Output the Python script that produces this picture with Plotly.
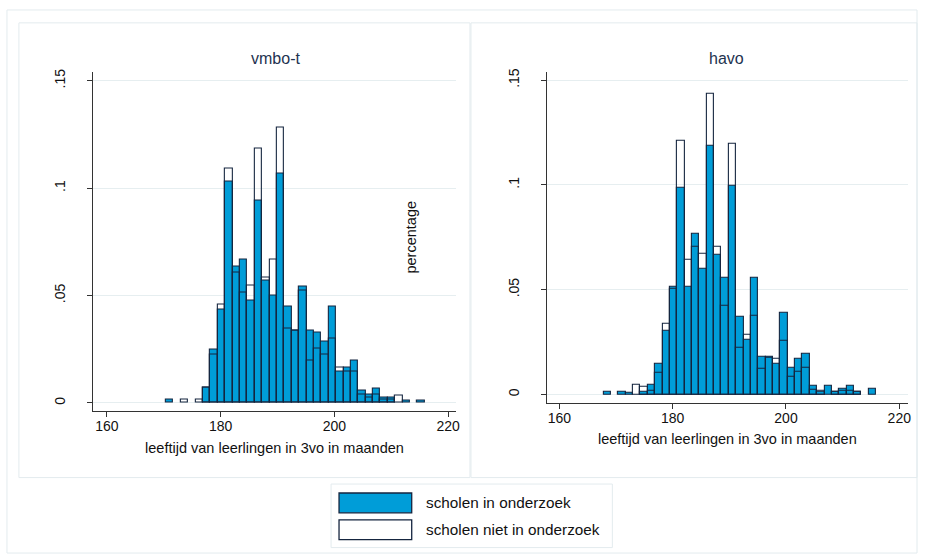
import plotly.graph_objects as go

# Histogram bins shared by both groups (age in months)
BIN_START = 167.8
BIN_WIDTH = 1.3
N_BINS = 37

# Fraction of pupils per bin, vmbo-t
vmbo_in = [0, 0, 0.0015, 0, 0, 0, 0, 0.0070, 0.0247, 0.0437, 0.1030, 0.0637, 0.0668,
           0.0476, 0.0941, 0.0568, 0.0498, 0.1068, 0.0447, 0.0336, 0.0540, 0.0336,
           0.0327, 0.0285, 0.0447, 0.0147, 0.0167, 0.0196, 0.0057, 0.0039, 0.0067,
           0.0026, 0.0026, 0, 0.0013, 0, 0.0013]
vmbo_niet = [0, 0, 0, 0, 0.0018, 0, 0.0018, 0.0070, 0.0224, 0.0458, 0.1090, 0.0605,
             0.0512, 0.0548, 0.1183, 0.0583, 0.0668, 0.1280, 0.0347, 0.0336, 0.0524,
             0.0196, 0.0252, 0.0224, 0.0301, 0.0167, 0.0147, 0.0147, 0.0039, 0.0025,
             0.0039, 0.0015, 0.0015, 0.0034, 0, 0, 0]

# Fraction of pupils per bin, havo
havo_in = [0.0013, 0, 0.0013, 0.0006, 0, 0.0012, 0.0047, 0.0147, 0.0303, 0.0513, 0.0987,
           0.0513, 0.0766, 0.0600, 0.1188, 0.0666, 0.0556, 0.0998, 0.0371, 0.0261,
           0.0556, 0.0182, 0.0182, 0.0145, 0.0392, 0.0126, 0.0171, 0.0192, 0.0039,
           0.0012, 0.0039, 0.0011, 0.0028, 0.0039, 0.0012, 0, 0.0027]
havo_niet = [0, 0, 0, 0, 0.0047, 0.0035, 0.0019, 0.0102, 0.0335, 0.0502, 0.1209, 0.0645,
             0.0706, 0.0671, 0.1433, 0.0706, 0.0422, 0.1196, 0.0221, 0.0284, 0.0374,
             0.0123, 0.0177, 0.0169, 0.0256, 0.0083, 0.0110, 0.0129, 0.0024, 0.0019,
             0, 0.0011, 0.0019, 0.0019, 0.0012, 0, 0]

panel_titles = ["vmbo-t", "havo"]
series_names = ["scholen in onderzoek", "scholen niet in onderzoek"]
x_title = "leeftijd van leerlingen in 3vo in maanden"
y_title = "percentage"
x_ticks = [160, 180, 200, 220]
y_ticks = [0, 0.05, 0.1, 0.15]
y_ticktext = ["0", ".05", ".1", ".15"]

BLUE = "#009dd8"
EDGE = "#15253f"
GRID = "#e6eef0"
FRAME = "#e3ebee"
TITLE_COLOR = "#1e3350"
FONT = "Liberation Sans, Arial, sans-serif"

centers = [BIN_START + BIN_WIDTH * (k + 0.5) for k in range(N_BINS)]


def nz(values):
    return [v if v > 0 else None for v in values]


fig = go.Figure()

panels = [(vmbo_in, vmbo_niet, "x", "y"), (havo_in, havo_niet, "x2", "y2")]
for i, (v_in, v_niet, xa, ya) in enumerate(panels):
    fig.add_trace(go.Bar(
        x=centers, y=nz(v_in), width=BIN_WIDTH, xaxis=xa, yaxis=ya,
        name=series_names[0], showlegend=False,
        marker=dict(color=BLUE, line=dict(color=EDGE, width=1.1)),
    ))
    fig.add_trace(go.Bar(
        x=centers, y=nz(v_niet), width=BIN_WIDTH, xaxis=xa, yaxis=ya,
        name=series_names[1], showlegend=False,
        marker=dict(color="rgba(255,255,255,0)", line=dict(color=EDGE, width=1.1)),
    ))

W, H = 927, 560


def px(x):
    return x / W


def py(y):
    return 1 - y / H


xaxis_common = dict(
    showline=True, linecolor="#333333", linewidth=1,
    ticks="outside", ticklen=5, tickcolor="#333333",
    tickvals=x_ticks, showgrid=False, zeroline=False,
    tickfont=dict(family=FONT, size=14, color="#111111"),
    ticklabelstandoff=-3,
    title=dict(text=x_title, font=dict(family=FONT, size=14.5, color="#111111"), standoff=9),
)
yaxis_common = dict(
    showline=True, linecolor="#333333", linewidth=1,
    ticks="outside", ticklen=5, tickcolor="#333333",
    tickvals=y_ticks, ticktext=y_ticktext, tickangle=-90,
    showgrid=True, gridcolor=GRID, gridwidth=1, zeroline=False,
    tickfont=dict(family=FONT, size=14, color="#111111"),
    ticklabelstandoff=16,
)

fig.update_layout(
    width=W, height=H,
    margin=dict(l=0, r=0, t=0, b=0),
    paper_bgcolor="white", plot_bgcolor="white",
    barmode="overlay", bargap=0,
    font=dict(family=FONT),
    xaxis=dict(xaxis_common, domain=[px(93.3), px(458)], range=[157.55, 221.4], anchor="y"),
    yaxis=dict(yaxis_common, domain=[py(410), py(68)], range=[-0.0038, 0.1543], anchor="x"),
    xaxis2=dict(xaxis_common, domain=[px(549.3), px(911.7)], range=[157.8, 221.5], anchor="y2"),
    yaxis2=dict(yaxis_common, domain=[py(401.7), py(68.3)], range=[-0.004, 0.154], anchor="x2"),
)

shapes = []
# outer graph region and the two panel frames
shapes.append(dict(type="rect", xref="paper", yref="paper",
                   x0=px(7), x1=px(921), y0=py(553), y1=py(6),
                   line=dict(color=FRAME, width=1), layer="below"))
for x0, x1 in [(19, 472), (473, 921)]:
    shapes.append(dict(type="rect", xref="paper", yref="paper",
                       x0=px(x0), x1=px(x1), y0=py(477), y1=py(19),
                       line=dict(color=FRAME, width=1), layer="below"))

# legend box with two swatches
shapes.append(dict(type="rect", xref="paper", yref="paper",
                   x0=px(332.5), x1=px(615), y0=py(547.5), y1=py(483.5),
                   line=dict(color=FRAME, width=1), fillcolor="white"))
swatch_fill = [BLUE, "white"]
swatch_y = [(492.5, 512.5), (519.5, 539.5)]
for fill, (y0, y1) in zip(swatch_fill, swatch_y):
    shapes.append(dict(type="rect", xref="paper", yref="paper",
                       x0=px(340.5), x1=px(413.5), y0=py(y1), y1=py(y0),
                       line=dict(color=EDGE, width=1.3), fillcolor=fill))

annotations = []
for name, (y0, y1) in zip(series_names, swatch_y):
    annotations.append(dict(xref="paper", yref="paper", x=px(426), y=py((y0 + y1) / 2),
                            text=name, showarrow=False, xanchor="left", yanchor="middle",
                            font=dict(family=FONT, size=15.3, color="#111111")))
for title, cx in zip(panel_titles, [276.5, 730]):
    annotations.append(dict(xref="paper", yref="paper", x=px(cx), y=py(55),
                            text=title, showarrow=False, xanchor="center", yanchor="middle",
                            font=dict(family=FONT, size=16, color=TITLE_COLOR)))
annotations.append(dict(xref="paper", yref="paper", x=px(413), y=py(235),
                        text=y_title, showarrow=False, textangle=-90,
                        xanchor="center", yanchor="middle",
                        font=dict(family=FONT, size=14.5, color="#111111")))

fig.update_layout(shapes=shapes, annotations=annotations)
fig.write_html("out.html")
